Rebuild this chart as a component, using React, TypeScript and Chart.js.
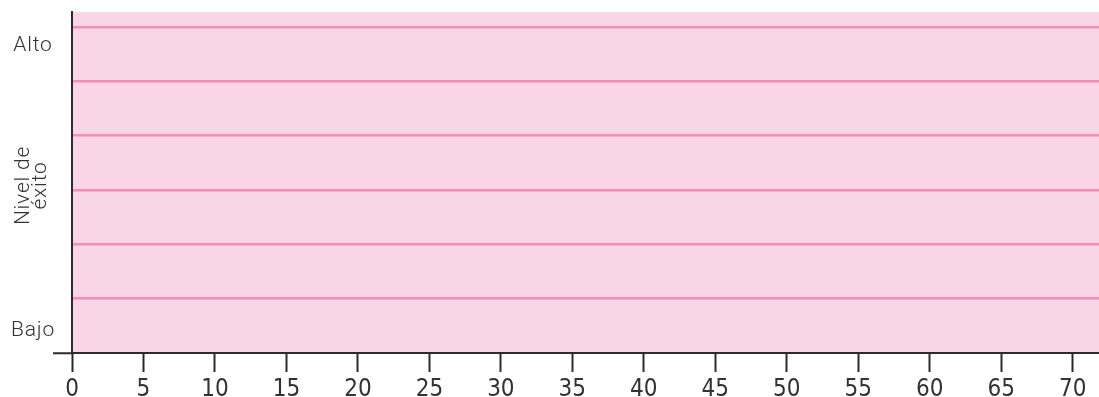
import React, { useEffect, useRef } from "react";
import { Chart, registerables } from "chart.js";

Chart.register(...registerables);

// ---- data ----
const xTickValues = [0, 5, 10, 15, 20, 25, 30, 35, 40, 45, 50, 55, 60, 65, 70];
const xMax = 71.84;
const yGridValues = [0, 1, 2, 3, 4, 5, 6];
const yMax = 6.274;
const yLevelLabels = ["Bajo", "Alto"];
const yLevelValues = [0.31, 5.56];
const yTitleLines = ["Nivel de", "éxito"];

const DARK = "#2b2b2b";
const TEXT = "#333333";
const PINK_BG = "#f9d5e5";
const PINK_LINE = "#f38cb6";
const LABEL_FONT = "300 21px Roboto, 'Open Sans', sans-serif";

const decorPlugin = {
  id: "decor",
  beforeDraw(chart: any) {
    const { ctx, chartArea } = chart;
    ctx.save();
    ctx.fillStyle = PINK_BG;
    ctx.fillRect(chartArea.left, chartArea.top, chartArea.right - chartArea.left, chartArea.bottom - chartArea.top);
    ctx.restore();
  },
  afterDraw(chart: any) {
    const { ctx, chartArea } = chart;
    const y = chart.scales.y;
    ctx.save();
    ctx.fillStyle = TEXT;
    ctx.font = LABEL_FONT;
    try { (ctx as any).letterSpacing = "0.8px"; } catch (e) {}
    ctx.textAlign = "center";
    ctx.textBaseline = "alphabetic";
    yLevelLabels.forEach((lab, i) => {
      ctx.fillText(lab, 33, y.getPixelForValue(yLevelValues[i]));
    });
    // rotated title
    const cy = (chartArea.top + chartArea.bottom) / 2 + 3;
    ctx.translate(0, cy);
    ctx.rotate(-Math.PI / 2);
    yTitleLines.forEach((line, i) => {
      ctx.fillText(line, 0, 29 + i * 17);
    });
    ctx.restore();
  },
};

export default function App() {
  const ref = useRef<HTMLCanvasElement>(null);
  useEffect(() => {
    const chart = new Chart(ref.current!, {
      type: "scatter",
      data: { datasets: [{ data: [], showLine: false }] },
      options: {
        animation: false,
        responsive: true,
        maintainAspectRatio: false,
        layout: { padding: { top: 12, left: 0, right: 0, bottom: 0 } },
        plugins: { legend: { display: false }, tooltip: { enabled: false } },
        scales: {
          x: {
            type: "linear",
            min: 0,
            max: xMax,
            afterBuildTicks: (s: any) => {
              s.ticks = xTickValues.map((v) => ({ value: v }));
            },
            afterFit: (s: any) => {
              s.height = 44;
            },
            border: { display: true, color: DARK, width: 2 },
            grid: {
              display: true,
              drawOnChartArea: false,
              drawTicks: true,
              tickLength: 19,
              tickColor: DARK,
              tickWidth: 2,
            },
            ticks: {
              autoSkip: false,
              maxRotation: 0,
              padding: 3,
              color: TEXT,
              font: { family: "'Liberation Sans Narrow', 'DejaVu Sans Condensed', Roboto, sans-serif", size: 24 },
            },
          },
          y: {
            type: "linear",
            min: 0,
            max: yMax,
            afterBuildTicks: (s: any) => {
              s.ticks = yGridValues.map((v) => ({ value: v }));
            },
            afterFit: (s: any) => {
              s.width = 72;
            },
            border: { display: true, color: DARK, width: 2 },
            grid: {
              display: true,
              drawOnChartArea: true,
              drawTicks: true,
              tickLength: 19,
              color: (c: any) => (c.tick && c.tick.value === 0 ? "rgba(0,0,0,0)" : PINK_LINE),
              lineWidth: 2.5,
              tickColor: (c: any) => (c.tick && c.tick.value === 0 ? DARK : "rgba(0,0,0,0)"),
              tickWidth: 2,
            },
            ticks: { display: false },
          },
        },
      },
      plugins: [decorPlugin],
    });
    return () => chart.destroy();
  }, []);
  return (
    <div style={{ position: "fixed", left: 0, top: 0, width: 1099, height: 397, background: "#fff" }}>
      <canvas ref={ref} />
    </div>
  );
}
